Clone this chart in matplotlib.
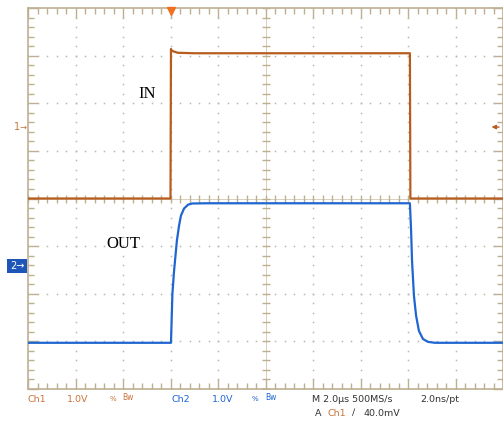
import matplotlib.pyplot as plt
import numpy as np

# time in microseconds (2.0 us/div), amplitude in divisions (1.0 V/div)
in_t = [0.0, 6.00, 6.02, 6.06, 6.3, 7.0, 16.08, 16.10, 20.0]
in_v = [0.0, 0.0, 3.14, 3.10, 3.06, 3.05, 3.05, 0.0, 0.0]

out_t = [0.0, 6.02, 6.08, 6.15, 6.27, 6.36, 6.44, 6.57, 6.74, 6.91, 7.5,
         16.08, 16.13, 16.17, 16.25, 16.34, 16.46, 16.63, 16.84, 17.14, 20.0]
out_v = [-3.03, -3.03, -2.0, -1.52, -0.88, -0.57, -0.36, -0.21, -0.13, -0.105, -0.1,
         -0.1, -0.67, -1.31, -2.04, -2.46, -2.78, -2.95, -3.01, -3.03, -3.03]

ch1_col = '#b85c1e'
ch1_txt = '#c8743a'
ch2_col = '#1f66d0'
grat_col = '#bdb092'
dot_col = '#b8b8b0'

fig = plt.figure(figsize=(5.03, 4.25), dpi=100)
ax = fig.add_axes([28 / 503, 36 / 425, 475 / 503, 381 / 425])
ax.set_xlim(0, 20)
ax.set_ylim(-4, 4)

# graticule dots
xs_major = np.arange(0, 20.01, 2)
ys_major = np.arange(-4, 4.01, 1)
fine_x = np.arange(0, 20.01, 0.4)
fine_y = np.arange(-4, 4.01, 0.2)
for x in xs_major[1:-1]:
    if x != 10:
        ax.plot([x] * len(fine_y), fine_y, ls='none', marker='s', ms=1.1,
                color=dot_col, mew=0)
for y in ys_major[1:-1]:
    if y != 0:
        ax.plot(fine_x, [y] * len(fine_x), ls='none', marker='s', ms=1.1,
                color=dot_col, mew=0)

# center cross with ticks
ax.plot(fine_x, [0] * len(fine_x), ls='none', marker='|', ms=6, color=grat_col, mew=1)
ax.plot([10] * len(fine_y), fine_y, ls='none', marker='_', ms=6, color=grat_col, mew=1)
ax.axhline(0, color=grat_col, lw=0.6, alpha=0.7, zorder=1)
ax.axvline(10, color=grat_col, lw=0.6, alpha=0.7, zorder=1)

# borders with ticks
for s in ax.spines.values():
    s.set_color(grat_col)
    s.set_linewidth(1.2)
ax.set_xticks(xs_major)
ax.set_xticks(fine_x, minor=True)
ax.set_yticks(ys_major)
ax.set_yticks(fine_y, minor=True)
ax.tick_params(which='both', direction='in', top=True, right=True, color=grat_col,
               labelbottom=False, labelleft=False, width=1)
ax.tick_params(which='major', length=7)
ax.tick_params(which='minor', length=4)

# traces
ax.plot(in_t, in_v, color=ch1_col, lw=1.6, zorder=5)
ax.plot(out_t, out_v, color=ch2_col, lw=1.6, zorder=5)

# labels
ax.text(5.0, 2.2, 'IN', family='Liberation Serif', fontsize=12, ha='center', va='center')
ax.text(4.0, -0.95, 'OUT', family='Liberation Serif', fontsize=12, ha='center', va='center')

# markers
ax.plot([6.0], [3.93], marker='v', ms=6, color='#f07020', clip_on=False, zorder=6)
ax.annotate('', xy=(19.4, 1.5), xytext=(19.95, 1.5),
            arrowprops=dict(arrowstyle='-|>', color=ch1_col, lw=1, mutation_scale=6))
fig.text(14 / 503, 1 - 127 / 425, '1', color=ch1_txt, fontsize=7, ha='left', va='center')
fig.text(20 / 503, 1 - 127 / 425, '\u2192', color=ch1_txt, fontsize=6, ha='left', va='center')
fig.text(17 / 503, 1 - 266 / 425, '2\u2192', color='white', fontsize=7, ha='center', va='center',
         bbox=dict(boxstyle='square,pad=0.25', fc='#1e56b8', ec='none'))

# status line
fs = 6.8
row1 = 1 - 399 / 425
row2 = 1 - 413 / 425
fig.text(28 / 503, row1, 'Ch1', color=ch1_txt, fontsize=fs, va='center')
fig.text(67 / 503, row1, '1.0V', color=ch1_txt, fontsize=fs, va='center')
fig.text(110 / 503, row1, '%', color=ch1_txt, fontsize=5, va='center')
fig.text(122 / 503, row1 + 0.004, 'Bw', color=ch1_txt, fontsize=5.5, va='center')
fig.text(172 / 503, row1, 'Ch2', color=ch2_col, fontsize=fs, va='center')
fig.text(212 / 503, row1, '1.0V', color=ch2_col, fontsize=fs, va='center')
fig.text(252 / 503, row1, '%', color=ch2_col, fontsize=5, va='center')
fig.text(265 / 503, row1 + 0.004, 'Bw', color=ch2_col, fontsize=5.5, va='center')
fig.text(312 / 503, row1, 'M 2.0\u00b5s 500MS/s', color='#333333', fontsize=fs, va='center')
fig.text(420 / 503, row1, '2.0ns/pt', color='#333333', fontsize=fs, va='center')
fig.text(315 / 503, row2, 'A', color='#333333', fontsize=fs, va='center')
fig.text(327 / 503, row2, 'Ch1', color=ch1_txt, fontsize=fs, va='center')
fig.text(352 / 503, row2, '\u2215', color='#333333', fontsize=fs, va='center')
fig.text(363 / 503, row2, '40.0mV', color='#333333', fontsize=fs, va='center')

fig.savefig('out.png', dpi=100)
